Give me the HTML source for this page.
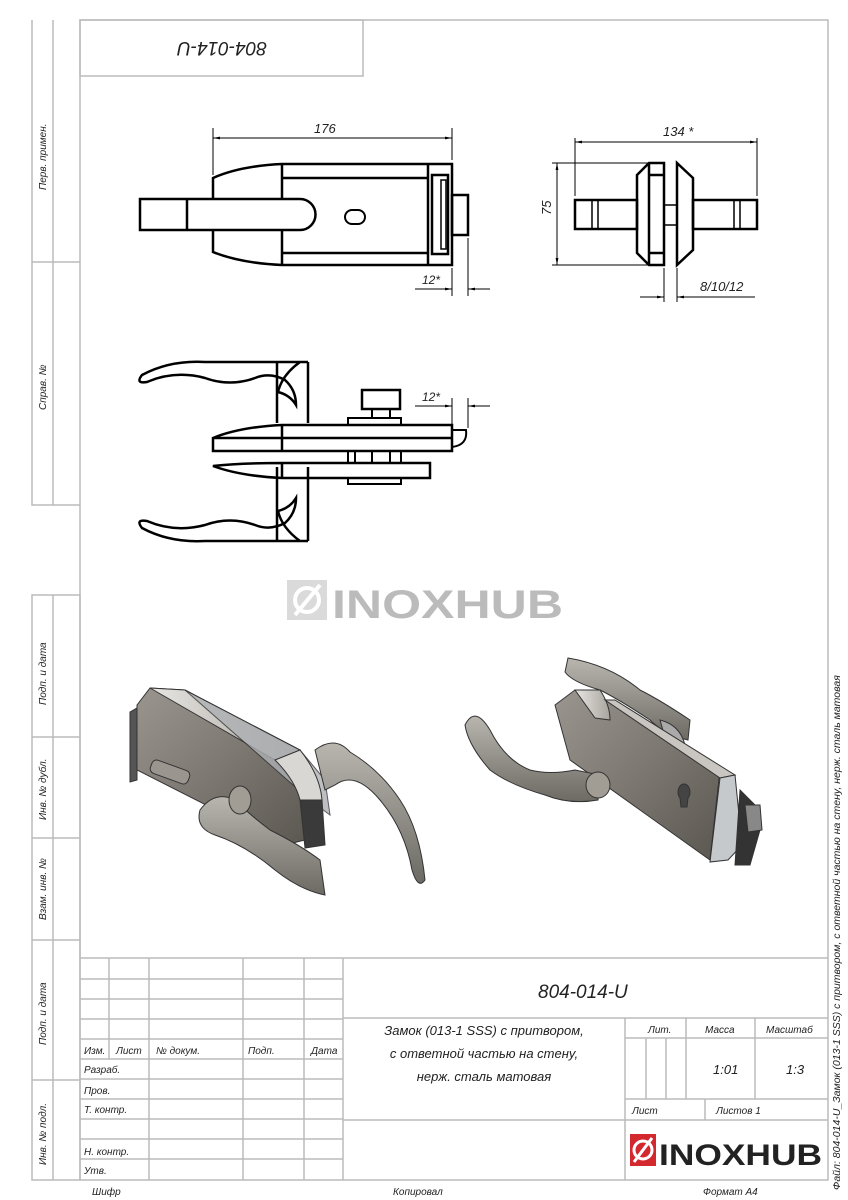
<!DOCTYPE html>
<html><head><meta charset="utf-8"><style>
html,body{margin:0;padding:0;background:#fff}
svg{display:block}
text{font-family:"Liberation Sans","DejaVu Sans",sans-serif;font-style:italic;fill:#222}
text.n{font-style:normal}
</style></head><body>
<svg width="848" height="1200" viewBox="0 0 848 1200" xmlns="http://www.w3.org/2000/svg">
<defs>
<linearGradient id="g1" x1="0" y1="0" x2="1" y2="1"><stop offset="0" stop-color="#9a968f"/><stop offset=".5" stop-color="#7c7871"/><stop offset="1" stop-color="#5a5650"/></linearGradient>
<linearGradient id="g2" x1="0" y1="0" x2="0" y2="1"><stop offset="0" stop-color="#b9b6b0"/><stop offset="1" stop-color="#6d6a64"/></linearGradient>
<linearGradient id="g3" x1="0" y1="0" x2="1" y2="0"><stop offset="0" stop-color="#e8e6e2"/><stop offset="1" stop-color="#a8a49e"/></linearGradient>
<marker id="a" viewBox="0 0 10 10" refX="10" refY="5" markerWidth="7" markerHeight="7" orient="auto-start-reverse"><path d="M0,3 L10,5 L0,7z" fill="#000"/></marker>
</defs>
<g fill="none" stroke="#bbb" stroke-width="1.5">
<rect x="80" y="20" width="748" height="1160"/>
<rect x="80" y="20" width="283" height="56"/>
<path d="M32 20V505H80 M53 20V505 M32 262H80"/>
<path d="M32 595H80V1180H32Z M53 595V1180 M32 737H80 M32 838H80 M32 940H80 M32 1080H80"/>
<path d="M80 958H828 M343 958V1180 M109 958V1059 M149 958V1180 M243 958V1180 M304 958V1180"/>
<path d="M80 979H343 M80 999H343 M80 1019H343 M80 1039H343 M80 1059H343 M80 1079H343 M80 1099H343 M80 1119H343 M80 1139H343 M80 1159H343"/>
<path d="M343 1018H828 M625 1018V1180 M686 1018V1099 M755 1018V1099 M625 1038H828 M646 1038V1099 M666 1038V1099 M625 1099H828 M705 1099V1120 M343 1120H828"/>
</g>
<g font-size="10" fill="#333">
<text transform="translate(46,190) rotate(-90)">Перв. примен.</text>
<text transform="translate(46,410) rotate(-90)">Справ. №</text>
<text transform="translate(46,705) rotate(-90)">Подп. и дата</text>
<text transform="translate(46,820) rotate(-90)">Инв. № дубл.</text>
<text transform="translate(46,920) rotate(-90)">Взам. инв. №</text>
<text transform="translate(46,1045) rotate(-90)">Подп. и дата</text>
<text transform="translate(46,1165) rotate(-90)">Инв. № подл.</text>
<text x="84" y="1054">Изм.</text><text x="116" y="1054">Лист</text><text x="156" y="1054">№ докум.</text><text x="248" y="1054">Подп.</text><text x="311" y="1054">Дата</text>
<text x="84" y="1073">Разраб.</text><text x="84" y="1094">Пров.</text><text x="84" y="1113">Т. контр.</text><text x="84" y="1155">Н. контр.</text><text x="84" y="1174">Утв.</text>
<text x="648" y="1033">Лит.</text><text x="705" y="1033">Масса</text><text x="766" y="1033">Масштаб</text>
<text x="632" y="1114">Лист</text><text x="716" y="1114">Листов 1</text>
<text x="92" y="1195">Шифр</text><text x="393" y="1195">Копировал</text><text x="703" y="1195">Формат А4</text>
<text transform="translate(840,1190) rotate(-90)" font-size="10.5">Файл: 804-014-U_Замок (013-1 SSS) с притвором, с ответной частью на стену, нерж. сталь матовая</text>
</g>
<text x="713" y="1074" font-size="13">1:01</text><text x="786" y="1074" font-size="13">1:3</text>
<text x="538" y="998" font-size="19">804-014-U</text>
<g font-size="13" text-anchor="middle"><text x="484" y="1035">Замок (013-1 SSS) с притвором,</text><text x="484" y="1058">с ответной частью на стену,</text><text x="484" y="1081">нерж. сталь матовая</text></g>
<text transform="translate(222,42) rotate(180)" font-size="19" text-anchor="middle">804-014-U</text>
<rect x="630" y="1134" width="26" height="32" fill="#d3282e"/>
<circle cx="643" cy="1150" r="9" fill="none" stroke="#fff" stroke-width="3"/><path d="M634 1162 L652 1138" stroke="#fff" stroke-width="3"/>
<text class="n" x="659" y="1165" font-size="30" font-weight="bold" fill="#333" textLength="163" lengthAdjust="spacingAndGlyphs">INOXHUB</text>
<g opacity=".3"><rect x="287" y="580" width="40" height="40" fill="#888"/><circle cx="307" cy="600" r="12" fill="none" stroke="#fff" stroke-width="4"/><path d="M295 615 L320 585" stroke="#fff" stroke-width="4"/>
<text class="n" x="332" y="618" font-size="40" font-weight="bold" fill="#777" textLength="231" lengthAdjust="spacingAndGlyphs">INOXHUB</text></g>
<g fill="none" stroke="#000" stroke-width="2.5">
<path d="M213 178 Q240 166 282 164 H452 V265 H282 Q240 263 213 252 Z"/>
<path d="M282 164V265 M282 178H428 M282 253H428 M428 164V265"/>
<rect x="432" y="175" width="16" height="79"/><rect x="441" y="180" width="5" height="69" stroke-width="1.5"/>
<rect x="452" y="195" width="16" height="40"/>
<path d="M140 199 H300 A15 15 0 0 1 300 230 H140Z" fill="#fff"/><path d="M187 199V230"/>
<path d="M352 210 h6 a7 7 0 1 1 0 14 h-6 a7 7 0 0 1 0 -14z" stroke-width="2"/>
</g>
<g stroke="#000" stroke-width="1" fill="none">
<path d="M213 175V128 M452 160V128"/><path d="M213 138H452" marker-start="url(#a)" marker-end="url(#a)"/>
<path d="M452 268V296 M468 238V296 M415 289H452" marker-end="url(#a)"/><path d="M490 289H468" marker-end="url(#a)"/>
</g>
<text x="314" y="133" font-size="13">176</text><text x="422" y="284" font-size="12">12*</text>
<g fill="none" stroke="#000" stroke-width="2.5">
<path d="M308 362 H205 Q170 360 142 375 Q135 384 147 382 Q175 370 205 378 Q230 387 255 378 Q270 372 285 380 Q296 390 296 405 Q290 395 278 392 Q282 375 300 362"/>
<path d="M277 362V423 M308 362V423 M277 467V541 M308 467V541"/>
<path d="M308 541 H205 Q170 543 142 528 Q135 519 147 521 Q175 533 205 525 Q230 516 255 525 Q270 531 285 523 Q296 513 296 498 Q290 508 278 511 Q282 528 300 541"/>
<path d="M213 438 Q240 427 282 425 H452 V451 H213 Z M213 438H452 M282 425V451"/>
<path d="M213 466 Q240 476 282 478 H430 V463 H282 Q240 463 213 466Z M282 463V478"/>
<rect x="348" y="418" width="53" height="7" stroke-width="2"/><rect x="362" y="390" width="38" height="19"/><rect x="372" y="409" width="18" height="9" stroke-width="2"/>
<path d="M348 451V463 M355 451V463 M372 451V463 M390 451V463 M401 451V463" stroke-width="2"/>
<rect x="348" y="478" width="53" height="6" stroke-width="2"/>
<path d="M452 430 H466 Q468 445 452 447" stroke-width="2"/>
</g>
<g stroke="#000" stroke-width="1" fill="none">
<path d="M452 428V398 M468 428V398 M415 406H452" marker-end="url(#a)"/><path d="M490 406H468" marker-end="url(#a)"/>
</g>
<text x="422" y="401" font-size="12">12*</text>
<g fill="none" stroke="#000" stroke-width="2.5">
<rect x="575" y="200" width="62" height="29"/><rect x="693" y="200" width="64" height="29"/>
<path d="M592 200V229 M598 200V229 M740 200V229 M734 200V229" stroke-width="1.5"/>
<path d="M649 163 H664 V265 H649 L637 253 V175 Z M649 163V265 M649 175H664 M649 253H664"/>
<path d="M677 163 L693 178 V250 L677 265 Z M677 175V253"/>
<rect x="664" y="205" width="13" height="20" stroke-width="1.5"/>
</g>
<g stroke="#000" stroke-width="1" fill="none">
<path d="M575 196V138 M757 196V138"/><path d="M575 142H757" marker-start="url(#a)" marker-end="url(#a)"/>
<path d="M552 163H649 M552 265H649"/><path d="M557 163V265" marker-start="url(#a)" marker-end="url(#a)"/>
<path d="M664 268V302 M677 268V302 M640 297H664" marker-end="url(#a)"/><path d="M755 297H677" marker-end="url(#a)"/>
</g>
<text x="663" y="136" font-size="13">134 *</text><text transform="translate(551,215) rotate(-90)" font-size="13">75</text><text x="700" y="291" font-size="13">8/10/12</text>
<g stroke="#333" stroke-width="1">
<path d="M130 712 L137 708 L137 780 L130 782Z" fill="#555"/>
<path d="M137 705 L150 688 L185 690 L310 770 L305 840 L285 845 L137 770 Z" fill="url(#g1)"/>
<path d="M150 688 L185 690 L300 750 L275 760 Z" fill="url(#g3)"/>
<path d="M185 690 L300 750 L325 780 L330 815 L310 800 Z" fill="#aeb0b4" opacity=".8"/>
<path d="M275 760 L300 750 Q320 775 322 800 L300 800 Q295 780 275 760Z" fill="#d9d7d3"/>
<path d="M300 800 L322 800 L325 845 L305 848Z" fill="#3a3a3a"/>
<path d="M315 750 Q335 735 350 752 Q380 770 400 800 Q420 830 425 880 Q418 890 412 870 Q405 830 380 800 Q355 770 335 785 L325 790 Z" fill="url(#g2)"/>
<path d="M200 810 Q215 790 235 800 Q250 815 270 830 Q300 845 320 860 L325 895 Q300 890 275 870 Q245 845 215 835 Q195 828 200 810Z" fill="url(#g2)"/>
<ellipse cx="240" cy="800" rx="11" ry="14" fill="#a19c94"/>
<rect x="150" y="765" width="40" height="14" rx="5" fill="#9a968f" transform="rotate(20 170 772)"/>
</g>
<g stroke="#333" stroke-width="1">
<path d="M568 658 Q610 665 640 690 Q660 700 690 720 L688 740 Q665 735 650 720 Q620 700 600 690 Q572 682 565 672 Z" fill="url(#g2)"/>
<path d="M660 720 Q680 725 685 745 L670 755 Z" fill="#aaa"/>
<path d="M555 705 L575 690 L605 700 L720 770 L710 860 L570 760 Z" fill="url(#g1)"/>
<path d="M575 690 L600 690 Q610 705 610 720 L595 718 Z" fill="url(#g3)"/>
<path d="M605 700 L615 700 L735 775 L720 778 Z" fill="#c9c6c2"/>
<path d="M720 778 L735 775 L742 845 L728 860 L710 862 Z" fill="#c5c9cc"/>
<path d="M740 790 L755 805 L760 830 L750 865 L735 865 Z" fill="#333"/>
<path d="M745 805 L760 805 L762 830 L748 832Z" fill="#888"/>
<path d="M465 725 Q475 705 490 730 Q505 760 530 770 Q550 775 575 770 L600 775 L598 800 Q570 805 545 795 Q510 785 490 770 Q468 745 465 725Z" fill="url(#g2)"/>
<ellipse cx="598" cy="785" rx="12" ry="13" fill="#a19c94"/>
<path d="M680 798 a6 8 0 1 1 8 0 l-1 9 h-6z" fill="#444"/>
</g>
</svg>
</body></html>
